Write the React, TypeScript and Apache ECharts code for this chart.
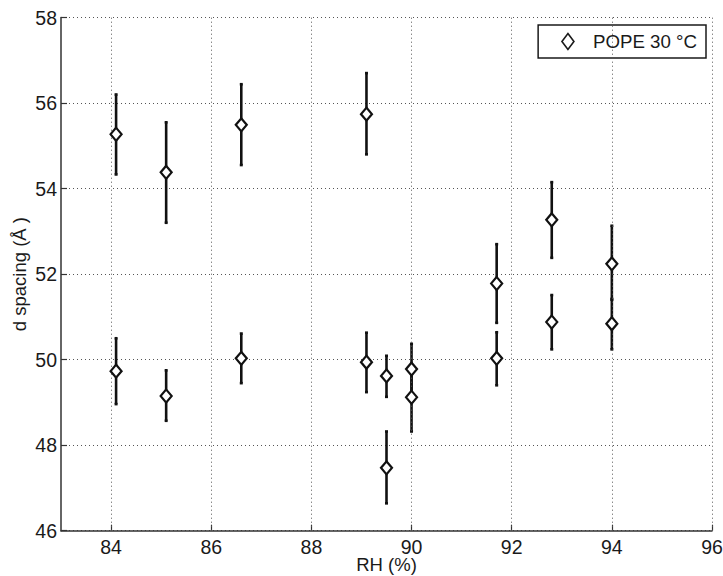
import React, { useEffect, useRef } from "react";
import * as echarts from "echarts";

const rh = [84.1, 85.1, 86.6, 89.1, 84.1, 85.1, 86.6, 89.1, 89.5, 89.5, 90.0, 90.0, 91.7, 91.7, 92.8, 92.8, 94.0, 94.0];
const dSpacing = [55.27, 54.38, 55.49, 55.74, 49.73, 49.15, 50.03, 49.94, 49.62, 47.47, 49.78, 49.12, 51.78, 50.03, 53.27, 50.88, 52.24, 50.84];
const errLow = [54.33, 53.2, 54.55, 54.8, 48.96, 48.57, 49.45, 49.24, 49.13, 46.64, 49.2, 48.32, 50.86, 49.4, 52.38, 50.24, 51.42, 50.24];
const errHigh = [56.2, 55.55, 56.44, 56.7, 50.5, 49.75, 50.61, 50.63, 50.09, 48.32, 50.37, 49.9, 52.7, 50.64, 54.15, 51.51, 53.13, 51.4];
const xTicks = [84, 86, 88, 90, 92, 94, 96];
const seriesName = "POPE 30 °C";

const FONT = "'Liberation Sans', Arial, Helvetica, sans-serif";
const INK = "#1a1a1a";

export default function App() {
  const ref = useRef<HTMLDivElement>(null);
  useEffect(() => {
    if (!ref.current) return;
    const chart = echarts.init(ref.current, null, { renderer: "svg" });
    const points = rh.map((x, i) => [x, dSpacing[i]]);
    const bars = rh.map((x, i) => [x, errLow[i], errHigh[i]]);
    chart.setOption({
      animation: false,
      backgroundColor: "#ffffff",
      textStyle: { fontFamily: FONT },
      grid: { left: 61, right: 11, top: 17.5, bottom: 45.3, containLabel: false, outerBoundsMode: "none" },
      legend: {
        show: true,
        right: 17,
        top: 25,
        orient: "horizontal",
        padding: [7, 9, 7, 23],
        borderColor: INK,
        borderWidth: 1.5,
        backgroundColor: "#ffffff",
        itemWidth: 12,
        itemHeight: 16,
        data: [{ name: seriesName, icon: "diamond" }],
        itemStyle: { color: "#ffffff", borderColor: INK, borderWidth: 1.6 },
        textStyle: { fontFamily: FONT, fontSize: 18.7, color: INK, padding: [0, 0, 0, 14] },
      },
      xAxis: {
        type: "value",
        min: 83,
        max: 96,
        name: "RH (%)",
        nameLocation: "middle",
        nameGap: 25,
        nameMoveOverlap: false,
        nameTextStyle: { fontFamily: FONT, fontSize: 18.5, color: INK, lineHeight: 18 },
        axisLine: { show: true, onZero: false, lineStyle: { color: "#333", width: 1.5 } },
        axisTick: { show: true, inside: true, length: 6, customValues: xTicks, lineStyle: { color: "#333", width: 1.2 } },
        axisLabel: { customValues: xTicks, fontFamily: FONT, fontSize: 19.5, color: INK, margin: 7, lineHeight: 18 },
        splitLine: { show: false },
      },
      yAxis: {
        type: "value",
        min: 46,
        max: 58,
        interval: 2,
        name: "d spacing (Å )",
        nameLocation: "middle",
        nameGap: 32,
        nameMoveOverlap: false,
        nameRotate: 90,
        nameTextStyle: { fontFamily: FONT, fontSize: 18.5, color: INK },
        axisLine: { show: true, onZero: false, lineStyle: { color: "#333", width: 1.5 } },
        axisTick: { show: true, inside: true, length: 6, lineStyle: { color: "#333", width: 1.2 } },
        axisLabel: { fontFamily: FONT, fontSize: 19.5, color: INK, margin: 4 },
        splitLine: { show: true, lineStyle: { color: "#555", width: 1, type: [1, 3] } },
      },
      series: [
        {
          name: "gridx",
          type: "line",
          data: [],
          silent: true,
          markLine: {
            silent: true,
            symbol: ["none", "none"],
            label: { show: false },
            lineStyle: { color: "#555", width: 1, type: [1, 3] },
            data: xTicks.map((v) => ({ xAxis: v })),
          },
        },
        {
          name: "errorbars",
          type: "custom",
          silent: true,
          data: bars,
          z: 3,
          renderItem: (params: any, api: any) => {
            const x = api.value(0);
            const lo = api.coord([x, api.value(1)]);
            const hi = api.coord([x, api.value(2)]);
            const cap = 1.5;
            const st = { stroke: "#111", lineWidth: 2.6 };
            return {
              type: "group",
              children: [
                { type: "line", shape: { x1: lo[0], y1: lo[1], x2: hi[0], y2: hi[1] }, style: st },
                { type: "line", shape: { x1: hi[0] - cap, y1: hi[1], x2: hi[0] + cap, y2: hi[1] }, style: st },
                { type: "line", shape: { x1: lo[0] - cap, y1: lo[1], x2: lo[0] + cap, y2: lo[1] }, style: st },
              ],
            };
          },
        },
        {
          name: seriesName,
          type: "scatter",
          data: points,
          symbol: "diamond",
          symbolSize: [11, 13],
          z: 5,
          itemStyle: { color: "#ffffff", borderColor: "#111", borderWidth: 2.2, opacity: 1 },
        },
      ],
    });
    return () => chart.dispose();
  }, []);
  return (
    <div
      ref={ref}
      style={{ position: "fixed", left: 0, top: 0, width: 723, height: 576, background: "#fff" }}
    />
  );
}
